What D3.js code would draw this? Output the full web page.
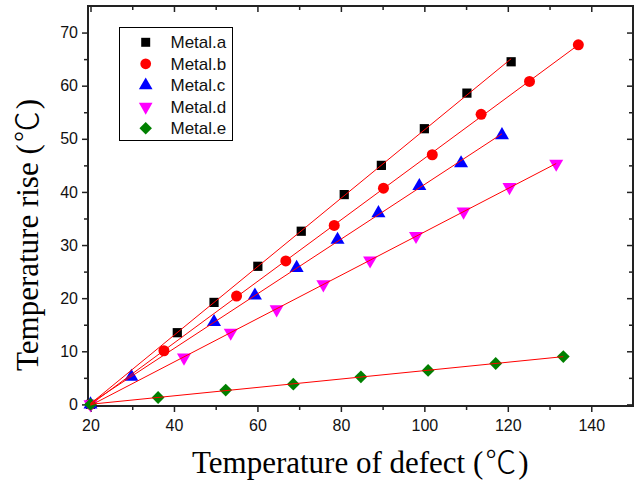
<!DOCTYPE html>
<html><head><meta charset="utf-8">
<script src="https://cdn.jsdelivr.net/npm/d3@7"></script>
<style>html,body{margin:0;padding:0;background:#fff;}svg{display:block;}</style>
</head><body>
<svg id="chart" width="639" height="487"></svg>
<script>
const seriesNames = ["Metal.a","Metal.b","Metal.c","Metal.d","Metal.e"];
const seriesColors = ["#000000","#ff0000","#0000ff","#ff00ff","#008000"];
const metalA_x = [20, 40.8, 49.6, 60.1, 70.5, 80.8, 89.7, 100.0, 110.2, 120.8];
const metalA_y = [0, 13.5, 19.2, 26.0, 32.6, 39.5, 45.0, 51.9, 58.6, 64.5];
const metalB_x = [20, 37.6, 55.0, 66.8, 78.4, 90.2, 101.9, 113.6, 125.2, 136.9];
const metalB_y = [0, 10.1, 20.4, 27.0, 33.7, 40.7, 47.0, 54.6, 60.8, 67.7];
const metalC_x = [20, 29.8, 49.6, 59.4, 69.4, 79.2, 89.0, 98.8, 108.8, 118.6];
const metalC_y = [0, 5.2, 15.5, 20.5, 25.7, 31.0, 36.0, 41.1, 45.4, 50.7];
const metalD_x = [20, 42.4, 53.6, 64.6, 75.8, 87.0, 98.0, 109.4, 120.4, 131.6];
const metalD_y = [0, 8.8, 13.5, 17.9, 22.6, 27.1, 31.7, 36.3, 40.9, 45.3];
const metalE_x = [20, 36.2, 52.4, 68.6, 84.8, 100.9, 117.1, 133.3];
const metalE_y = [0, 1.3, 2.7, 3.8, 5.2, 6.4, 7.7, 9.0];
const xTicks = [20, 40, 60, 80, 100, 120, 140];
const yTicks = [0, 10, 20, 30, 40, 50, 60, 70];
const xTitleMain = "Temperature of defect (";
const yTitleMain = "Temperature rise (";
const unitSymbol = "℃";

const xs = [metalA_x, metalB_x, metalC_x, metalD_x, metalE_x];
const ys = [metalA_y, metalB_y, metalC_y, metalD_y, metalE_y];
const symbols = [d3.symbolSquare, d3.symbolCircle, d3.symbolTriangle, d3.symbolTriangle, d3.symbolSquare];
const symSizes = [85, 95, 85, 85, 82];
const symRot = [0, 0, 0, 180, 45];

const L = 88, R = 633, T = 6, B = 406;
const x = d3.scaleLinear().domain([19.4, 150]).range([L, R]);
const y = d3.scaleLinear().domain([-0.3, 75]).range([B, T]);
const svg = d3.select("#chart");

const axFont = "'Liberation Sans', Arial, sans-serif";
function styleAxis(g) {
  g.selectAll("path.domain").remove();
  g.selectAll("line").attr("stroke", "#222").attr("stroke-width", 1.5);
  g.selectAll("text").attr("font-family", axFont).attr("font-size", 16).attr("fill", "#111");
}
const xMinor = d3.range(30, 150, 20);
const yMinor = d3.range(5, 75, 10);

svg.append("g").attr("transform", `translate(0,${B})`)
  .call(d3.axisBottom(x).tickValues(xTicks).tickSize(6).tickPadding(8).tickFormat(d3.format("d")))
  .call(styleAxis);
svg.append("g").attr("transform", `translate(0,${B})`)
  .call(d3.axisBottom(x).tickValues(xMinor).tickSize(4).tickFormat(""))
  .call(styleAxis);
svg.append("g").attr("transform", `translate(${L},0)`)
  .call(d3.axisLeft(y).tickValues(yTicks).tickSize(6).tickPadding(4).tickFormat(d3.format("d")))
  .call(styleAxis);
svg.append("g").attr("transform", `translate(${L},0)`)
  .call(d3.axisLeft(y).tickValues(yMinor).tickSize(4).tickFormat(""))
  .call(styleAxis);
svg.append("g").attr("transform", `translate(0,${T})`)
  .call(d3.axisTop(x).tickValues(xTicks).tickSize(-6).tickFormat(""))
  .call(styleAxis);
svg.append("g").attr("transform", `translate(0,${T})`)
  .call(d3.axisTop(x).tickValues(xMinor).tickSize(-4).tickFormat(""))
  .call(styleAxis);
svg.append("g").attr("transform", `translate(${R},0)`)
  .call(d3.axisRight(y).tickValues(yTicks).tickSize(-6).tickFormat(""))
  .call(styleAxis);
svg.append("g").attr("transform", `translate(${R},0)`)
  .call(d3.axisRight(y).tickValues(yMinor).tickSize(-4).tickFormat(""))
  .call(styleAxis);

svg.append("rect").attr("x", L).attr("y", T).attr("width", R - L).attr("height", B - T)
  .attr("fill", "none").attr("stroke", "#222").attr("stroke-width", 2);

const plot = svg.append("g");
seriesNames.forEach((name, i) => {
  const pts = xs[i].map((vx, j) => [vx, ys[i][j]]);
  plot.selectAll(null).data(pts).enter().append("path")
    .attr("d", d3.symbol().type(symbols[i]).size(symSizes[i]))
    .attr("transform", d => `translate(${x(d[0])},${y(d[1])}) rotate(${symRot[i]})`)
    .attr("fill", seriesColors[i]);
});
seriesNames.forEach((name, i) => {
  const X = xs[i], Y = ys[i];
  const mx = d3.mean(X), my = d3.mean(Y);
  const slope = d3.sum(X.map((v, j) => (v - mx) * (Y[j] - my))) / d3.sum(X.map(v => (v - mx) ** 2));
  const icpt = my - slope * mx;
  const x0 = d3.min(X), x1 = d3.max(X);
  const line = d3.line().x(d => x(d[0])).y(d => y(d[1]));
  plot.append("path").attr("d", line([[x0, icpt + slope * x0], [x1, icpt + slope * x1]]))
    .attr("stroke", "#ff0000").attr("stroke-width", 1).attr("fill", "none");
});

const lg = svg.append("g");
lg.append("rect").attr("x", 119.5).attr("y", 27.5).attr("width", 113).attr("height", 113)
  .attr("fill", "#fff").attr("stroke", "#000").attr("stroke-width", 1);
seriesNames.forEach((name, i) => {
  const cy = 42.3 + i * 21.5;
  lg.append("path").attr("d", d3.symbol().type(symbols[i]).size(symSizes[i] * 0.95)())
    .attr("transform", `translate(145.7,${cy}) rotate(${symRot[i]})`)
    .attr("fill", seriesColors[i]);
  lg.append("text").attr("x", 170.5).attr("y", cy + 6).text(name)
    .attr("font-family", axFont).attr("font-size", 17).attr("fill", "#111");
});

const serif = "'Liberation Serif', 'Times New Roman', serif";
function title(sel, main) {
  sel.attr("font-family", serif).attr("font-size", 31).attr("fill", "#000");
  sel.append("tspan").text(main);
  sel.append("tspan").attr("dx", 2).attr("font-family", "'Noto Sans CJK JP', 'DejaVu Sans', sans-serif")
    .attr("font-weight", 300).attr("font-size", 31).text(unitSymbol);
  sel.append("tspan").attr("dx", 2).text(")");
}
svg.append("text").attr("x", 192).attr("y", 473).call(title, xTitleMain);
svg.append("text").attr("transform", `translate(38,371) rotate(-90)`).call(title, yTitleMain);
</script>
</body></html>
